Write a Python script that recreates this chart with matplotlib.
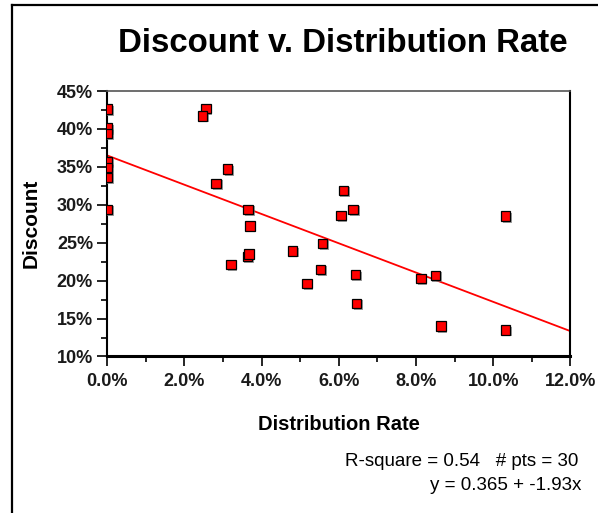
import numpy as np
import matplotlib
matplotlib.use("Agg")
import matplotlib.pyplot as plt
import matplotlib.patheffects as pe
from matplotlib.lines import Line2D
from matplotlib.ticker import FuncFormatter, MultipleLocator

# distribution rate (%) and discount (%) for each fund
dist_rate = [0.0, 0.0, 0.0, 0.0, 0.0, 0.0, 0.0,
             2.56, 2.47, 3.12, 2.82, 3.65, 3.70, 3.63, 3.67, 3.20,
             4.80, 5.58, 5.53, 5.17, 6.12, 6.37, 6.05, 6.43, 6.46,
             8.13, 8.50, 8.64, 10.32, 10.32]
discount = [42.6, 40.1, 39.4, 35.7, 34.9, 33.6, 29.4,
            42.7, 41.7, 34.7, 32.8, 29.4, 27.2, 23.2, 23.5, 22.1,
            23.9, 24.9, 21.5, 19.6, 31.9, 29.4, 28.6, 20.8, 17.0,
            20.3, 20.7, 14.0, 28.5, 13.5]

# fitted line: y = 0.365 + -1.93x
intercept = 0.365
slope = -1.93
r_square = 0.54

x_ticks = [0, 2, 4, 6, 8, 10, 12]
y_ticks = [10, 15, 20, 25, 30, 35, 40, 45]

fig = plt.figure(figsize=(5.98, 5.13), dpi=100)
ax = fig.add_axes([0.1794, 0.3051, 0.7746, 0.5175])

# trend line
xs = np.array([0, 12.0])
ax.plot(xs, (intercept + slope * xs / 100) * 100, color="#ff0000", lw=1.3, zorder=2)

ax.plot(dist_rate, discount, ls="none", marker="s", ms=6.8, mfc="#ff0000", mec="black",
        mew=0.9, zorder=3,
        path_effects=[pe.SimplePatchShadow(offset=(1.2, -1.2), shadow_rgbFace="#777777", alpha=0.7),
                      pe.Normal()])

ax.set_xlim(0, 12)
ax.set_ylim(10, 45)
ax.set_xticks(x_ticks)
ax.set_yticks(y_ticks)
ax.xaxis.set_minor_locator(MultipleLocator(1))
ax.yaxis.set_minor_locator(MultipleLocator(2.5))
ax.xaxis.set_major_formatter(FuncFormatter(lambda v, p: f"{v:.1f}%"))
ax.yaxis.set_major_formatter(FuncFormatter(lambda v, p: f"{v:.0f}%"))

for lab in ax.get_xticklabels() + ax.get_yticklabels():
    lab.set_fontfamily("Liberation Sans")
    lab.set_fontweight("bold")
    lab.set_fontsize(13)
    lab.set_color("#1a1a1a")

ax.tick_params(axis="both", which="major", direction="out", length=7.2, width=1.2, color="black", pad=3)
ax.tick_params(axis="both", which="minor", direction="out", length=4.3, width=1.2, color="black")
ax.tick_params(axis="x", pad=5)

ax.spines["left"].set_linewidth(1.5)
ax.spines["bottom"].set_linewidth(2.2)
ax.spines["top"].set_linewidth(1.2)
ax.spines["top"].set_color("#555555")
ax.spines["right"].set_linewidth(1.5)

ax.set_xlabel("Distribution Rate", family="Liberation Sans", weight="bold", fontsize=14.5, labelpad=18)
ax.set_ylabel("Discount", family="Liberation Sans", weight="bold", fontsize=15, labelpad=12)

fig.text(0.573, 0.915, "Discount v. Distribution Rate", family="Liberation Sans", weight="bold",
         fontsize=23.8, ha="center", va="center")

fig.text(0.967, 0.100, f"R-square = {r_square:.2f}   # pts = {len(discount)}", family="Liberation Sans",
         fontsize=13.5, ha="right", va="center")
fig.text(0.973, 0.054, f"y = {intercept} + {slope}x", family="Liberation Sans",
         fontsize=13.5, ha="right", va="center")

# frame around the chart area
fig.add_artist(Line2D([0.02, 0.02], [0, 0.99], transform=fig.transFigure, color="black", lw=1.6))
fig.add_artist(Line2D([0.02, 1.0], [0.99, 0.99], transform=fig.transFigure, color="black", lw=1.6))

fig.savefig("out.png", dpi=100)
